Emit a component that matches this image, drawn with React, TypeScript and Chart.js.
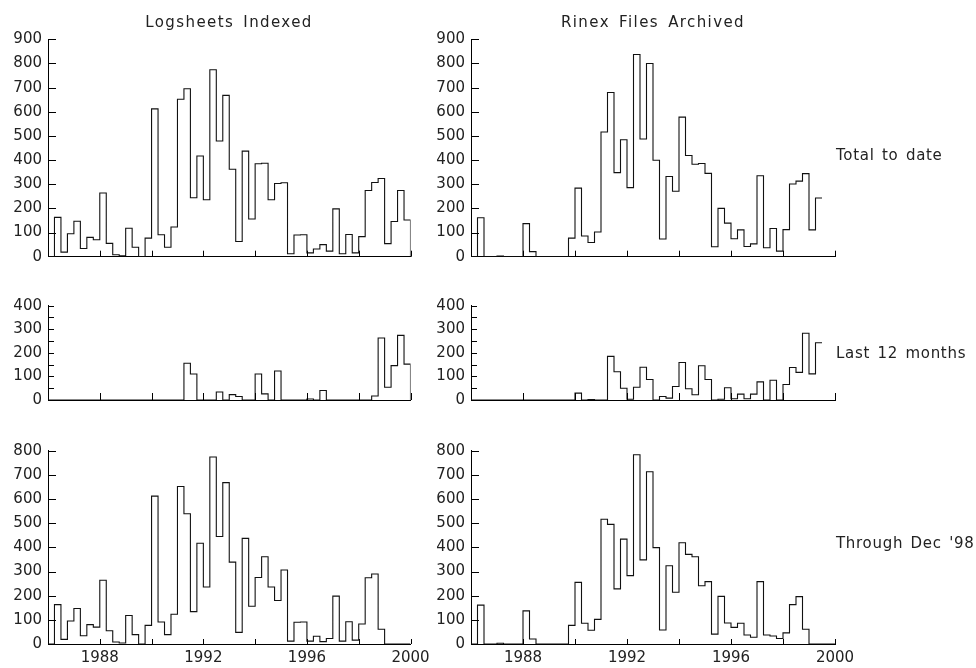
import React, { useEffect, useRef } from 'react';
import { Chart, registerables } from 'chart.js';

Chart.register(...registerables);

// ---- data: quarterly bins starting 1986.0 ----
const START_YEAR = 1986;
const BIN_YEARS = 0.25;
const X_MIN = 1986;
const X_MAX = 2000;

const ROW_LABELS = ['Total to date', 'Last 12 months', "Through Dec '98"];
const COLUMN_TITLES = ['Logsheets Indexed', 'Rinex Files Archived'];

// Logsheets Indexed
const LOG_TOTAL = [
  0, 163, 19, 95, 147, 34, 80, 70, 264, 55,
  8, 4, 118, 39, 0, 77, 612, 91, 39, 123,
  652, 695, 244, 417, 236, 774, 479, 668, 362, 63,
  437, 156, 385, 387, 236, 303, 306, 12, 90, 91,
  16, 32, 50, 23, 198, 12, 92, 16, 83, 274,
  307, 324, 54, 146, 274, 152,
];
const LOG_LAST12 = [
  0, 0, 0, 0, 0, 0, 0, 0, 0, 0,
  0, 0, 0, 0, 0, 0, 0, 0, 0, 0,
  0, 156, 110, 0, 0, 0, 34, 0, 23, 15,
  0, 0, 110, 26, 0, 123, 0, 0, 0, 0,
  4, 0, 40, 0, 0, 0, 0, 0, 0, 0,
  17, 263, 54, 146, 274, 152,
];
const LOG_THROUGH_DEC98 = [
  0, 163, 19, 95, 147, 34, 80, 70, 264, 55,
  8, 4, 118, 39, 0, 77, 612, 91, 39, 123,
  652, 539, 134, 417, 236, 774, 445, 668, 339, 48,
  437, 156, 275, 361, 236, 180, 306, 12, 90, 91,
  12, 32, 10, 23, 198, 12, 92, 16, 83, 274,
  290, 61, 0, 0, 0, 0,
];

// Rinex Files Archived
const RINEX_TOTAL = [
  0, 161, 0, 0, 3, 0, 0, 0, 137, 21,
  0, 0, 0, 0, 0, 77, 284, 86, 59, 102,
  516, 680, 348, 484, 286, 837, 487, 800, 399, 73,
  332, 271, 578, 419, 383, 386, 345, 41, 200, 139,
  74, 111, 42, 53, 335, 37, 117, 23, 112, 301,
  313, 344, 111, 243,
];
const RINEX_LAST12 = [
  0, 0, 0, 0, 0, 0, 0, 0, 0, 0,
  0, 0, 0, 0, 0, 0, 29, 0, 2, 0,
  0, 185, 120, 50, 3, 54, 139, 87, 0, 15,
  8, 57, 159, 48, 22, 145, 87, 0, 3, 52,
  5, 25, 5, 25, 77, 0, 84, 0, 66, 138,
  117, 283, 111, 243,
];
const RINEX_THROUGH_DEC98 = [
  0, 161, 0, 0, 3, 0, 0, 0, 137, 21,
  0, 0, 0, 0, 0, 77, 255, 86, 57, 102,
  516, 495, 228, 434, 283, 783, 348, 713, 399, 58,
  324, 214, 419, 371, 361, 241, 258, 41, 197, 87,
  69, 86, 37, 28, 258, 37, 33, 23, 46, 163,
  196, 61, 0, 0, 0, 0,
];

// ---- layout / style ----
const FONT = 'DejaVu Sans';
const TEXT_COLOR = '#222';
const CANVAS_W = 440;

const COLS = [
  { canvasLeft: 0, areaLeft: 48, areaRight: 410.5, titleCenter: 229 },
  { canvasLeft: 425, areaLeft: 471, areaRight: 835, titleCenter: 653 },
];
const ROWS = [
  { canvasTop: 0, canvasH: 275, areaTop: 39.3, areaBottom: 256.7, yMax: 900, yStep: 100, showX: false, xTick: 6, yTick: 8, labelTop: 147.5 },
  { canvasTop: 285, canvasH: 130, areaTop: 305.7, areaBottom: 402.3, yMax: 400, yStep: 50, showX: false, xTick: 7, yTick: 6, labelTop: 345.5 },
  { canvasTop: 430, canvasH: 238, areaTop: 450.7, areaBottom: 644, yMax: 800, yStep: 100, showX: true, xTick: 5, yTick: 8, labelTop: 535.5 },
];

const PANELS = [
  { col: 0, row: 0, values: LOG_TOTAL, closeToZero: true },
  { col: 0, row: 1, values: LOG_LAST12, closeToZero: true },
  { col: 0, row: 2, values: LOG_THROUGH_DEC98, closeToZero: true },
  { col: 1, row: 0, values: RINEX_TOTAL, closeToZero: false },
  { col: 1, row: 1, values: RINEX_LAST12, closeToZero: false },
  { col: 1, row: 2, values: RINEX_THROUGH_DEC98, closeToZero: true },
];

function toSteps(values: number[], closeToZero: boolean) {
  const pts = values.map((v, i) => ({ x: START_YEAR + i * BIN_YEARS, y: v }));
  const last = values[values.length - 1];
  pts.push({ x: START_YEAR + values.length * BIN_YEARS, y: closeToZero ? 0 : last });
  return pts;
}

const innerTicks = {
  id: 'innerTicks',
  afterDatasetsDraw(chart: any, _args: any, opts: any) {
    const { ctx, chartArea, scales } = chart;
    const xs = scales.x;
    const ys = scales.y;
    ctx.save();
    ctx.strokeStyle = '#000';
    ctx.lineWidth = 1;
    xs.ticks.forEach((t: any) => {
      if (t.value <= xs.min) return;
      const px = Math.round(xs.getPixelForValue(t.value)) + 0.5;
      ctx.beginPath();
      ctx.moveTo(px, chartArea.bottom);
      ctx.lineTo(px, chartArea.bottom - opts.xLen);
      ctx.stroke();
    });
    ys.ticks.forEach((t: any) => {
      if (t.value <= ys.min) return;
      const py = Math.round(ys.getPixelForValue(t.value)) + 0.5;
      ctx.beginPath();
      ctx.moveTo(chartArea.left, py);
      ctx.lineTo(chartArea.left + opts.yLen, py);
      ctx.stroke();
    });
    ctx.restore();
  },
};

function Panel({ spec }: { spec: typeof PANELS[number] }) {
  const ref = useRef<HTMLCanvasElement>(null);
  const col = COLS[spec.col];
  const row = ROWS[spec.row];
  useEffect(() => {
    if (!ref.current) return;
    const yAxisW = col.areaLeft - col.canvasLeft;
    const xAxisH = row.canvasH - (row.areaBottom - row.canvasTop);
    const chart = new Chart(ref.current, {
      type: 'line',
      data: {
        datasets: [
          {
            data: toSteps(spec.values, spec.closeToZero),
            stepped: true,
            borderColor: '#111',
            borderWidth: 1.1,
            pointRadius: 0,
            fill: false,
            tension: 0,
          },
        ],
      },
      options: {
        animation: false,
        responsive: false,
        maintainAspectRatio: false,
        events: [],
        layout: {
          padding: {
            left: 0,
            top: row.areaTop - row.canvasTop,
            right: CANVAS_W - (col.areaRight - col.canvasLeft),
            bottom: 0,
          },
        },
        plugins: {
          legend: { display: false },
          tooltip: { enabled: false },
          title: { display: false },
          innerTicks: { xLen: row.xTick, yLen: row.yTick },
        } as any,
        scales: {
          x: {
            type: 'linear',
            min: X_MIN,
            max: X_MAX,
            ticks: {
              stepSize: 2,
              display: row.showX,
              autoSkip: false,
              maxRotation: 0,
              padding: 5,
              color: TEXT_COLOR,
              font: { family: FONT, size: 15 },
              callback: (v: any) => (Number(v) % 4 === 0 ? String(v) : ''),
            },
            grid: { display: true, drawOnChartArea: false, drawTicks: false },
            border: { display: true, color: '#000', width: 1 },
            afterFit: (s: any) => {
              s.height = xAxisH;
            },
          },
          y: {
            type: 'linear',
            min: 0,
            max: row.yMax,
            ticks: {
              stepSize: row.yStep,
              autoSkip: false,
              padding: 6,
              color: TEXT_COLOR,
              font: { family: FONT, size: 15 },
              callback: (v: any) => (Number(v) % 100 === 0 ? String(v) : ''),
            },
            grid: { display: true, drawOnChartArea: false, drawTicks: false },
            border: { display: true, color: '#000', width: 1 },
            afterFit: (s: any) => {
              s.width = yAxisW;
            },
          },
        },
      } as any,
      plugins: [innerTicks],
    });
    return () => chart.destroy();
  }, []);
  return (
    <canvas
      ref={ref}
      width={CANVAS_W}
      height={row.canvasH}
      style={{ position: 'absolute', left: col.canvasLeft, top: row.canvasTop, width: CANVAS_W, height: row.canvasH }}
    />
  );
}

const textStyle: React.CSSProperties = {
  position: 'absolute',
  fontFamily: FONT,
  fontSize: 15,
  lineHeight: '15px',
  color: TEXT_COLOR,
  whiteSpace: 'nowrap',
};
const titleStyle: React.CSSProperties = { ...textStyle, letterSpacing: '1.4px', wordSpacing: '3px' };
const rowLabelStyle: React.CSSProperties = { ...textStyle, letterSpacing: '0.7px', wordSpacing: '2px' };

export default function App() {
  return (
    <div style={{ position: 'absolute', left: 0, top: 0, width: 976, height: 668, background: '#fff', overflow: 'hidden' }}>
      {PANELS.map((p, i) => (
        <Panel key={i} spec={p} />
      ))}
      {COLUMN_TITLES.map((t, i) => (
        <div key={t} style={{ ...titleStyle, top: 14.7, left: COLS[i].titleCenter - 150, width: 300, textAlign: 'center' }}>
          {t}
        </div>
      ))}
      {ROW_LABELS.map((t, i) => (
        <div key={t} style={{ ...rowLabelStyle, top: ROWS[i].labelTop, left: 836 }}>
          {t}
        </div>
      ))}
    </div>
  );
}
